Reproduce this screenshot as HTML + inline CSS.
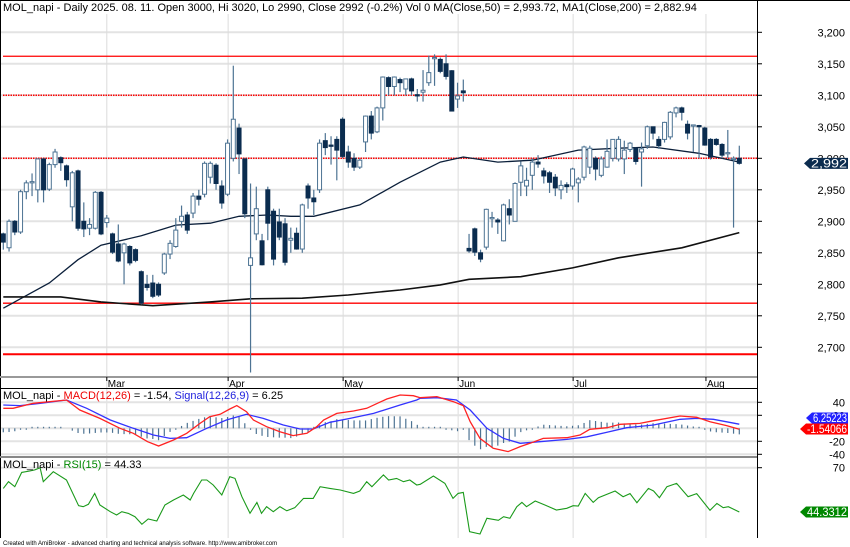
<!DOCTYPE html>
<html><head><meta charset="utf-8">
<style>
html,body{margin:0;padding:0;background:#fff;}
svg{display:block;font-family:"Liberation Sans",Arial,sans-serif;}
</style></head>
<body>
<svg id="chart" width="850" height="547" viewBox="0 0 850 547" xmlns="http://www.w3.org/2000/svg">
<rect x="0" y="0" width="850" height="547" fill="#fff"/>
<g id="grid"></g>
<g id="levels"></g>
<g id="ma"></g>
<g id="candles"></g>
<g id="macd"></g>
<g id="rsi"></g>
<g id="axes"></g>
<text x="3" y="11" font-size="11" fill="#000">MOL_napi - Daily 2025. 08. 11. Open 3000, Hi 3020, Lo 2990, Close 2992 (-0.2%) Vol 0 MA(Close,50) = 2,993.72, MA1(Close,200) = 2,882.94</text>
<text x="3" y="399" font-size="11"><tspan fill="#000">MOL_napi - </tspan><tspan fill="#e00">MACD(12,26)</tspan><tspan fill="#000"> = -1.54, </tspan><tspan fill="#22d">Signal(12,26,9)</tspan><tspan fill="#000"> = 6.25</tspan></text>
<text x="3" y="468" font-size="11"><tspan fill="#000">MOL_napi - </tspan><tspan fill="#080">RSI(15)</tspan><tspan fill="#000"> = 44.33</tspan></text>
<text x="3" y="545" font-size="6" fill="#000">Created with AmiBroker - advanced charting and technical analysis software. http://www.amibroker.com</text>
</svg>
<script>
const opens=[2880,2858,2900,2883,2947,2961,2950,2999,2951,2990,3001,2988,2923,2980,2900,2889,2889,2946,2898,2880,2864,2850,2860,2855,2820,2800,2802,2800,2818,2848,2860,2900,2910,2913,2940,2943,2970,2989,2956,2943,3000,3048,2999,2830,2880,2869,2950,2916,2899,2896,2870,2881,2856,2956,2937,2950,3028,3021,3030,3062,3010,3000,2986,3026,3067,3042,3080,3128,3114,3125,3110,3126,3101,3105,3120,3158,3157,3150,3139,3094,3107,2857,2888,2850,2859,2904,2902,2869,2920,2900,2962,2956,2973,2994,2980,2977,2970,2950,2958,2956,2961,2970,2986,3000,2973,2986,3000,2999,2999,3014,3016,3010,3020,3050,3030,3030,3034,3072,3080,3054,3052,3052,3048,3030,3030,3022,3008,2998,3000];
const closes=[2867,2900,2883,2947,2961,2963,2999,2950,2990,3010,2993,2966,2977,2889,2888,2895,2946,2880,2905,2851,2837,2864,2834,2838,2770,2795,2781,2783,2848,2865,2886,2908,2886,2940,2935,2992,2992,2960,2929,3024,3062,3007,2912,2842,2920,2831,2897,2840,2875,2835,2873,2856,2926,2937,2931,3024,3017,3019,3013,3003,2994,2986,2997,3067,3040,3080,3129,3114,3129,3120,3126,3107,3099,3108,3136,3160,3138,3130,3075,3099,3104,2853,2851,2840,2919,2906,2899,2926,2910,2960,2988,2965,2994,2991,2972,2962,2953,2957,2955,2983,2967,3018,3016,2983,2999,3011,3030,3030,3013,3024,2995,3015,3050,3040,3020,3057,3073,3080,3073,3040,3053,3051,3021,3002,3022,3005,3009,3000,2992];
const highs=[2882,2903,2902,2950,2965,2976,3000,3000,2993,3015,3003,2990,2980,2982,2930,2905,2948,2948,2910,2882,2895,2866,2862,2857,2822,2815,2815,2803,2850,2870,2905,2925,2915,2945,2950,2995,2995,2992,2965,3030,3147,3055,3000,2960,2955,2880,2955,2920,2920,2905,2890,2890,2928,2960,2950,3030,3040,3035,3035,3065,3020,3008,3000,3068,3075,3082,3130,3130,3130,3128,3126,3128,3110,3140,3163,3165,3160,3165,3140,3120,3125,2880,2890,2855,2920,2915,2905,2928,2935,2962,2995,2985,3000,3005,2985,2980,2975,2965,2962,2985,2970,3020,3020,3003,3003,3030,3030,3035,3028,3026,3017,3025,3052,3050,3035,3058,3075,3082,3082,3060,3053,3053,3050,3032,3032,3024,3045,3003,3020];
const lows=[2855,2852,2878,2880,2935,2940,2930,2930,2948,2985,2980,2955,2900,2885,2875,2878,2887,2878,2890,2848,2835,2800,2830,2835,2768,2790,2778,2780,2815,2840,2858,2890,2880,2905,2925,2938,2960,2950,2920,2940,2995,2975,2905,2660,2870,2830,2870,2830,2870,2830,2850,2855,2850,2920,2910,2945,3005,2990,2965,3000,2985,2980,2983,3010,3030,3040,3060,3100,3100,3105,3100,3100,3090,3090,3115,3115,3135,3125,3075,3080,3090,2850,2845,2835,2855,2890,2880,2868,2895,2900,2940,2940,2950,2985,2960,2945,2940,2935,2945,2950,2930,2965,2975,2965,2970,2985,2995,2995,2975,3010,2990,2955,3015,3030,3015,3025,3030,3065,3060,3030,3010,3000,3020,2998,3020,3000,3000,2890,2990];
const ma50Idx=[0,8,13,17,24,30,36,41,46,50,54,62,69,76,80,86,92,100,107,113,121,128];
const ma50Val=[2762,2802,2839,2862,2877,2894,2897,2908,2910,2908,2908,2926,2962,2994,3002,2994,2997,3013,3016,3018,3008,2994];
const ma200Idx=[0,10,17,26,36,43,52,60,69,76,81,90,99,107,118,128];
const ma200Val=[2780,2780,2772,2766,2772,2777,2778,2783,2791,2799,2808,2812,2826,2842,2858,2882];
const priceTicks=[3200,3150,3100,3050,3000,2950,2900,2850,2800,2750,2700];
const priceTickLabels=["3,200","3,150","3,100","3,050","3,000","2,950","2,900","2,850","2,800","2,750","2,700"];
const levelVals=[3162,3100,3000,2770,2689];
const levelStyles=["solid","dotted","dotted","solid","thick"];
const monthNames=["Mar","Apr","May","Jun","Jul","Aug"];
const monthIdx=[18.0,39.1,59.1,79.1,99.1,122.2];
const macdIdx=[0,1.7,5.2,11,13.3,16.8,20.3,22.6,25.1,27,29.6,31.9,34.2,35.9,37.7,39.4,40.6,42.3,43.5,45.8,48.1,50.4,52.8,54.5,55.7,58,60.9,63.2,66.7,69,71.3,72.5,75.4,78.3,80,81.2,82.9,85.2,87.8,89.9,91.6,93.9,98,100.3,102,105,107.3,110.7,113.1,117.7,120.6,122.9,125.8,128];
const macdVal=[30.8,30.8,38.4,43.5,28.2,15.3,0,-7.7,-20.6,-27.2,-18,-7.7,7.6,17.9,21.5,29.7,34.9,25.6,12.8,2.5,-5.2,-11.3,-7.7,2.5,12.8,23,26.6,30.8,45.1,51.2,50.2,47.1,48.7,41,34.9,10.2,-15.5,-30.8,-35.9,-28.2,-23.1,-15.5,-14.4,-10.3,-1.6,1,6.1,7.6,11.7,18.9,16.9,10.2,4.1,-1.54];
const sigIdx=[0,2.9,6.4,11,14.5,18.6,22.6,26.1,29,31.9,35.4,38.8,42.3,45.2,48.7,51.6,53.9,56.8,60.3,64.4,69,71.9,72.5,75.4,78.8,81.2,84.1,87,89.9,93.3,98,101.5,105,108.4,113.1,117.7,120.6,123.5,128];
const sigVal=[35.9,34.9,38.4,43.5,30.8,12.8,0,-10.3,-15.5,-14.4,0,12.8,21.5,15.3,5.1,-1.1,-1.1,9.2,15.3,23,35.9,43.5,46.1,47.1,43.5,28.2,0,-15.5,-23.1,-20.6,-17,-13,-6.2,1,5.1,13.8,15.3,13.8,6.25];
const macdTicks=[40,20,0,-20,-40];
const rsiIdx=[0,0.9,2.0,3.2,4.6,5.5,6.4,6.96,8.7,11.0,13.1,13.9,14.8,15.9,16.8,18.6,19.7,20.6,21.7,22.9,24.1,25.2,26.7,28.1,29.6,31.3,32.5,33.1,34.5,35.4,36.5,38,39.4,40.3,41.5,42.9,44.1,44.9,45.8,46.96,48.1,49.3,50.7,52.2,53.9,55.1,56.8,58.6,60.9,62.0,63.2,64.1,66.1,67.0,68.4,69.6,70.7,71.9,72.5,74.8,76.8,78.2,79.1,80.0,81.1,82.9,84.1,86.1,87.0,88.1,89.3,90.2,91.0,92.5,94.2,96.2,98.0,99.1,100.0,101.2,102.6,103.5,106.4,107.8,109.0,110.2,112.2,113.1,114.1,115.4,117.1,119.1,120.6,122.9,124.1,125.2,126.1,128];
const rsiVal=[58.0,61.9,59.0,67.3,68.1,68.7,70.0,61.9,67.7,62.9,48.0,47.4,48.8,55.1,48.4,44.5,42.6,44.5,43.6,41.6,37.2,40.3,39.1,48.4,51.3,54.2,51.3,55.1,62.9,62.9,60,54.2,64.8,63.8,53.2,43.6,49.9,43.6,47.4,44.5,47.4,45,46.8,52.2,52.2,59.0,58.0,57.1,55.1,56.5,61.9,59.0,65.8,62.9,63.8,61.9,62.9,60,60.4,65.2,60.9,52.2,55.1,55.7,32.9,31.6,40.7,39.5,41.6,40.7,47.4,49.9,47.4,50.7,48.4,45.5,46.5,48.0,47.8,55.1,49.9,52.6,56.5,53.2,55,49.7,58,56.5,52.6,59.0,60.9,53.2,55,45.3,49.3,46.8,47.4,44.33];
const rsiTicks=[70];

const NS="http://www.w3.org/2000/svg";
const xOf=i=>3.3+i*5.75;
const yP=p=>32.3+(3200-p)*0.63;
const yM=v=>428.3-v*0.65;
const yR=v=>467.7+(70-v)*1.726;
function mk(tag,attrs,parent){const e=document.createElementNS(NS,tag);for(const k in attrs)e.setAttribute(k,attrs[k]);parent.appendChild(e);return e;}
function interp(xs,ys,x){if(x<=xs[0])return ys[0];for(let k=1;k<xs.length;k++){if(x<=xs[k]){const t=(x-xs[k-1])/(xs[k]-xs[k-1]);return ys[k-1]+t*(ys[k]-ys[k-1]);}}return ys[ys.length-1];}

const grid=document.getElementById('grid');
priceTicks.forEach((p,k)=>{
  const l=mk('line',{x1:0,x2:757,y1:yP(p),y2:yP(p),stroke:'#e3e3e3','stroke-width':2},grid);
  
  
});
monthIdx.forEach((m,k)=>{
  const l=mk('line',{x1:xOf(m),x2:xOf(m),y1:14,y2:538,stroke:'#dcdcdc','stroke-width':1},grid);
  
  
});
macdTicks.forEach(v=>{
  const l=mk('line',{x1:0,x2:757,y1:yM(v),y2:yM(v),stroke:'#e3e3e3','stroke-width':2},grid);
  
  
});
rsiTicks.forEach(v=>{
  const l=mk('line',{x1:0,x2:757,y1:yR(v),y2:yR(v),stroke:'#e3e3e3','stroke-width':2},grid);
  
  
});

const lv=document.getElementById('levels');
levelVals.forEach((v,k)=>{
  const s=levelStyles[k];
  const a={x1:3,x2:757,y1:yP(v),y2:yP(v),stroke:'#f00','stroke-width':s==='thick'?2:(s==='dotted'?1.5:1.3)};
  if(s==='dotted')a['stroke-dasharray']='1.5 1';
  const l=mk('line',a,lv);
  
  
});

const ma=document.getElementById('ma');
function poly(xs,ys,fy,parent,color,w){
  let pts=xs.map((x,k)=>xOf(x).toFixed(1)+','+fy(ys[k]).toFixed(1)).join(' ');
  return mk('polyline',{points:pts,fill:'none',stroke:color,'stroke-width':w},parent);
}
const m50=poly(ma50Idx,ma50Val,yP,ma,'#0b1f3a',1.3);


const m200=poly(ma200Idx,ma200Val,yP,ma,'#111',1.6);



const cg=document.getElementById('candles');
closes.forEach((c,i)=>{
  const o=opens[i],x=xOf(i);
  const w=mk('line',{x1:x,x2:x,y1:yP(highs[i]),y2:yP(lows[i]),stroke:'#4d7393','stroke-width':1.2},cg);
  
  
  const top=yP(Math.max(o,c)),bot=yP(Math.min(o,c));
  const up=c>=o;
  const b=mk('rect',{x:x-2,y:top,width:4,height:Math.max(1.2,bot-top),fill:up?'#fff':'#0b2c4f',stroke:up?'#4d7393':'#0b2c4f','stroke-width':1},cg);
  
  
});

const mg=document.getElementById('macd');
for(let i=0;i<closes.length;i++){
  const h=interp(macdIdx,macdVal,i)-interp(sigIdx,sigVal,i);
  const hl=mk('line',{x1:xOf(i),x2:xOf(i),y1:yM(0),y2:yM(0)-Math.sign(h)*Math.max(1.5,Math.abs(h)*0.65*1.2),stroke:'#4d7393','stroke-width':1.2},mg);
  
  
}
const sl=poly(sigIdx,sigVal,yM,mg,'#33f',1.3);


const ml=poly(macdIdx,macdVal,yM,mg,'#f22',1.3);



const rg=document.getElementById('rsi');
const rl=poly(rsiIdx,rsiVal,yR,rg,'#1a9a1a',1.1);



const ax=document.getElementById('axes');
function line(a,name){const l=mk('line',a,ax);return l;}
function text(x,y,s,a,name){const t=mk('text',Object.assign({x:x,y:y,'font-size':11,fill:'#000'},a||{}),ax);t.textContent=s;return t;}
line({x1:757.5,x2:757.5,y1:0,y2:538,stroke:'#000','stroke-width':1},'y-axis-line');
line({x1:0.5,x2:0.5,y1:0,y2:538,stroke:'#000','stroke-width':1},'left-border');
line({x1:0,x2:850,y1:0.5,y2:0.5,stroke:'#000','stroke-width':1},'top-border');
line({x1:0,x2:757,y1:377,y2:377,stroke:'#999','stroke-width':2},'price-pane-bottom');
line({x1:0,x2:757,y1:388.5,y2:388.5,stroke:'#000','stroke-width':1},'macd-pane-top');
line({x1:0,x2:757,y1:457,y2:457,stroke:'#888','stroke-width':2},'rsi-pane-top');
priceTicks.forEach((p,k)=>{
  line({x1:757,x2:762,y1:yP(p),y2:yP(p),stroke:'#000','stroke-width':1},'price-tick');
  text(845,yP(p)+4,priceTickLabels[k],{'text-anchor':'end'},'price-tick-label');
});
monthNames.forEach((m,k)=>{
  const x=xOf(monthIdx[k]);
  line({x1:x,x2:x,y1:377,y2:381,stroke:'#000','stroke-width':1},'month-tick');
  text(x+1,387,m,{'font-size':10},'month-label');
});
macdTicks.forEach(v=>{
  if(v===0)return;
  line({x1:757,x2:762,y1:yM(v),y2:yM(v),stroke:'#000','stroke-width':1},'macd-tick');
  text(845,yM(v)+4,String(v),{'text-anchor':'end'},'macd-tick-label');
});
rsiTicks.forEach(v=>{
  line({x1:757,x2:762,y1:yR(v),y2:yR(v),stroke:'#000','stroke-width':1},'rsi-tick');
  text(845,yR(v)+4,String(v),{'text-anchor':'end'},'rsi-tick-label');
});
function tag(y,label,bg,left,name){
  const g=mk('g',{},ax);
  
  
  mk('polygon',{points:`${left},${y} ${left+6},${y-5.5} 848,${y-5.5} 848,${y+5.5} ${left+6},${y+5.5}`,fill:bg},g);
  const t=mk('text',{x:left+7,y:y+4.2,'font-size':11.5,fill:'#fff',textLength:(840-left),lengthAdjust:'spacingAndGlyphs'},g);
  t.textContent=label;
}
tag(yP(closes[closes.length-1]),'2,992','#0b2c4f',804,'last-price-tag');
tag(418,'6.25223','#22f',806,'signal-value-tag');
tag(429,'-1.54066','#f00',800,'macd-value-tag');
tag(yR(rsiVal[rsiVal.length-1]),'44.3312','#080',800,'rsi-value-tag');
</script>
</body></html>
